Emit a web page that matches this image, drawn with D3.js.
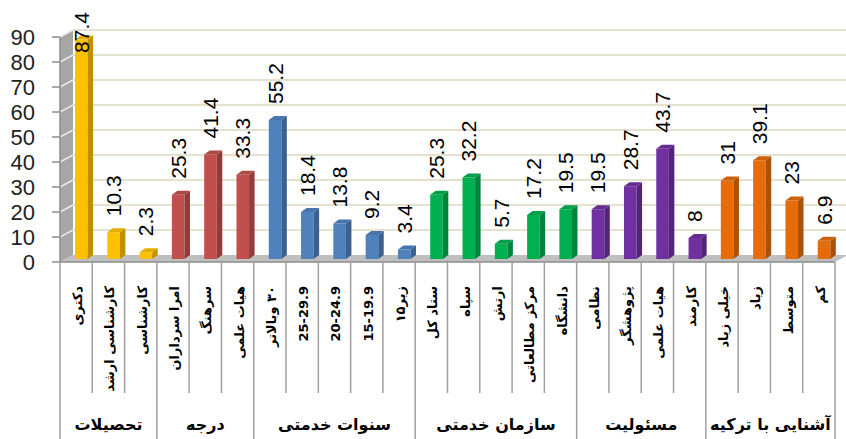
<!DOCTYPE html>
<html>
<head>
<meta charset="utf-8">
<script src="https://d3js.org/d3.v7.min.js"></script>
<style>
    body { margin: 0; background: #fff; }
    svg { display: block; }
    .tick-label { font: 22px "Liberation Sans", Arial, sans-serif; fill: #222; }
    .value { font: 21px "Liberation Sans", Arial, sans-serif; fill: #000; }
    .cat { font: bold 13px "DejaVu Sans", sans-serif; fill: #000; }
    .group { font: bold 16px "DejaVu Sans", sans-serif; fill: #000; }
</style>
</head>
<body>
<svg width="846" height="439"></svg>
<script>
// groups, left to right
var groups = ["تحصیلات", "درجه", "سنوات خدمتی", "سازمان خدمتی", "مسئولیت", "آشنایی با ترکیه"];
var groupSizes = [3, 3, 5, 5, 4, 4];
var groupColors = ["#ffc000", "#c0504d", "#4f81bd", "#00b050", "#7030a0", "#e46c0a"];

var categories = [
    "دکتری", "کارشناسی ارشد", "کارشناسی",
    "امرا سرداران", "سرهنگ", "هیات علمی",
    "۳۰ وبالاتر", "25-29.9", "20-24.9", "15-19.9", "زیر۱۵",
    "ستاد کل", "سپاه", "ارتش", "مرکز مطالعاتی", "دانشگاه",
    "نظامی", "پژوهشگر", "هیات علمی", "کارمند",
    "خیلی زیاد", "زیاد", "متوسط", "کم"
];
var values = [
    87.4, 10.3, 2.3,
    25.3, 41.4, 33.3,
    55.2, 18.4, 13.8, 9.2, 3.4,
    25.3, 32.2, 5.7, 17.2, 19.5,
    19.5, 28.7, 43.7, 8,
    31, 39.1, 23, 6.9
];
var yTicks = [0, 10, 20, 30, 40, 50, 60, 70, 80, 90];

// which group each category belongs to
var groupOf = [];
groupSizes.forEach(function (n, g) { for (var k = 0; k < n; k++) groupOf.push(g); });

var svg = d3.select("svg");
var x0 = 60, x1 = 835, yBase = 262, yTop = 37;
var wallDx = 13, wallDy = -7;   // depth of the back wall / floor
var barDx = 5.5, barDy = -4;    // depth of each bar

var xs = d3.scaleBand().domain(d3.range(categories.length)).range([x0, x1]);
var ys = d3.scaleLinear().domain([0, 90]).range([yBase, yTop]);
var step = xs.step();

// left wall
svg.append("polygon")
    .attr("points", [[x0, ys(0)], [x0, ys(90)], [x0 + wallDx, ys(90) + wallDy], [x0 + wallDx, ys(0) + wallDy]].join(" "))
    .attr("fill", "#a6a6a6");

// gridlines: slanted on the wall, then across the back
yTicks.forEach(function (t) {
    if (t == 0) return;
    svg.append("line")
        .attr("x1", x0).attr("y1", ys(t)).attr("x2", x0 + wallDx).attr("y2", ys(t) + wallDy)
        .attr("stroke", "#e8e8e8").attr("stroke-width", 1.5);
    svg.append("line")
        .attr("x1", x0 + wallDx).attr("y1", ys(t) + wallDy).attr("x2", x1 + wallDx).attr("y2", ys(t) + wallDy)
        .attr("stroke", "#e6e1cf").attr("stroke-width", 2);
});

// floor
svg.append("polygon")
    .attr("points", [[x0, ys(0)], [x1, ys(0)], [x1 + wallDx, ys(0) + wallDy], [x0 + wallDx, ys(0) + wallDy]].join(" "))
    .attr("fill", "#bfbfbf");

// y axis
svg.append("line").attr("x1", x0).attr("y1", ys(90)).attr("x2", x0).attr("y2", ys(0))
    .attr("stroke", "#8c8c8c").attr("stroke-width", 1.5);
svg.selectAll(".ytick").data(yTicks).enter().append("line")
    .attr("x1", x0 - 8).attr("x2", x0)
    .attr("y1", function (d) { return ys(d); }).attr("y2", function (d) { return ys(d); })
    .attr("stroke", "#8c8c8c").attr("stroke-width", 1.5);
svg.selectAll(".tick-label").data(yTicks).enter().append("text")
    .attr("class", "tick-label")
    .attr("x", 35)
    .attr("y", function (d) { return ys(d) + 8; })
    .attr("text-anchor", "end")
    .text(function (d) { return d; });

// bars
var bx = function (i) { return xs(i) + step * 0.465; };
var bw = step * 0.39;
var by = function (v) { return ys(v) + barDy; };
var bottom = ys(0) + barDy + 1;

var bars = svg.selectAll(".bar").data(values).enter().append("g").attr("class", "bar");
bars.append("rect")
    .attr("x", function (d, i) { return bx(i); })
    .attr("y", function (d) { return by(d); })
    .attr("width", bw)
    .attr("height", function (d) { return bottom - by(d); })
    .attr("fill", function (d, i) { return groupColors[groupOf[i]]; });
bars.append("polygon")
    .attr("points", function (d, i) {
        var l = bx(i) + bw;
        return [[l, by(d)], [l + barDx, by(d) + barDy], [l + barDx, bottom + barDy], [l, bottom]].join(" ");
    })
    .attr("fill", function (d, i) { return d3.color(groupColors[groupOf[i]]).darker(0.8); });
bars.append("polygon")
    .attr("points", function (d, i) {
        var l = bx(i), t = by(d);
        return [[l, t], [l + barDx, t + barDy], [l + bw + barDx, t + barDy], [l + bw, t]].join(" ");
    })
    .attr("fill", function (d, i) { return d3.color(groupColors[groupOf[i]]).darker(0.3); });

// value labels, rotated
svg.selectAll(".value").data(values).enter().append("text")
    .attr("class", "value")
    .text(function (d) { return d; })
    .attr("transform", function (d, i) {
        var len = this.getComputedTextLength();
        var yb = Math.max(by(d) - 16, 12 + len);
        return "translate(" + (bx(i) + bw / 2 + 7.5) + "," + yb + ") rotate(-90)";
    });

// horizontal axis line
svg.append("line").attr("x1", x0).attr("y1", ys(0)).attr("x2", x1).attr("y2", ys(0))
    .attr("stroke", "#8c8c8c").attr("stroke-width", 1.5);

// category dividers and group dividers
var starts = [0];
groupSizes.forEach(function (n, g) { starts.push(starts[g] + n); });
d3.range(categories.length + 1).forEach(function (i) {
    var isGroup = starts.indexOf(i) >= 0;
    var xx = i < categories.length ? xs(i) : x1;
    svg.append("line")
        .attr("x1", xx).attr("x2", xx)
        .attr("y1", ys(0)).attr("y2", isGroup ? 439 : 393)
        .attr("stroke", "#a0a0a0").attr("stroke-width", 1.5);
});

// category labels, rotated (right-to-left text, start sits at the top)
svg.selectAll(".cat").data(categories).enter().append("text")
    .attr("class", "cat")
    .attr("direction", "rtl")
    .attr("text-anchor", "start")
    .attr("transform", function (d, i) {
        return "translate(" + (xs(i) + step / 2 + 6) + ",286) rotate(-90)";
    })
    .text(function (d) { return d; });

// group labels
svg.selectAll(".group").data(groups).enter().append("text")
    .attr("class", "group")
    .attr("direction", "rtl")
    .attr("text-anchor", "middle")
    .attr("x", function (d, g) {
        var a = xs(starts[g]);
        var b = starts[g + 1] < categories.length ? xs(starts[g + 1]) : x1;
        return (a + b) / 2;
    })
    .attr("y", 430)
    .text(function (d) { return d; });
</script>
</body>
</html>
